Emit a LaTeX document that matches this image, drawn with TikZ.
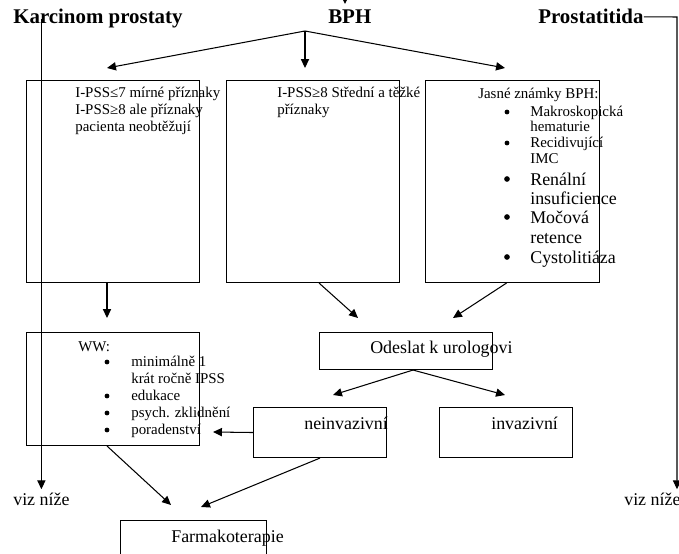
\documentclass[tikz,border=0pt]{standalone}
\usepackage{fontspec}
\setmainfont{Liberation Serif}
\usetikzlibrary{arrows.meta,calc}

\tikzset{
  box/.style 2 args={draw, line width=.7pt, anchor=north west, inner sep=0pt,
    minimum width=#1*0.67pt, minimum height=#2*0.67pt},
  txt/.style={anchor=base west, inner sep=0pt, font=\fontsize{10}{12}\selectfont},
  bigtxt/.style={anchor=base west, inner sep=0pt, font=\fontsize{12}{14}\selectfont},
  head/.style={anchor=base west, inner sep=0pt, font=\fontsize{14}{16}\selectfont\bfseries},
  dot/.style={circle, fill, inner sep=0pt, minimum size=3.2pt},
  bigdot/.style={circle, fill, inner sep=0pt, minimum size=3.8pt},
  arr/.style={line width=.7pt, -{Triangle[length=6pt,width=5.5pt]}},
}

\begin{document}
\begin{tikzpicture}[x=0.67pt, y=-0.67pt]
  \clip (0,0) rectangle (679,554);
  % headings
  \node[head] (karc) at (13,24) {Karcinom prostaty};
  \node[head] (bph) at (328,24) {BPH};
  \node[head] (prost) at (538,24) {Prostatitida};

  % boxes
  \node[box={173}{202}] (ipss) at (26,80) {};
  \node[box={173}{202}] (stredni) at (226,80) {};
  \node[box={174}{202}] (jasne) at (425,80) {};
  \node[box={173}{113}] (ww) at (26,332) {};
  \node[box={173}{37}] (urolog) at (319,332) {};
  \node[box={133}{50}] (neinv) at (253,407) {};
  \node[box={133}{50}] (inv) at (439,407) {};
  \node[box={146}{60}] (farma) at (120,520) {};

  % texts in the boxes
  \foreach \y/\t [count=\i] in {98/I-PSS≤7 mírné příznaky, 115/I-PSS≥8 ale příznaky, 132/pacienta neobtěžují}
    \node[txt] (ipss-\i) at (75,\y) {\t};
  \foreach \y/\t [count=\i] in {98/I-PSS≥8 Střední a těžké, 115/příznaky}
    \node[txt] (stredni-\i) at (277,\y) {\t};

  \node[txt] (jasne-0) at (478,99) {Jasné známky BPH:};
  \foreach \y/\t [count=\i] in {117/Makroskopická, 132/hematurie, 148/Recidivující, 164/IMC}
    \node[txt] (jasne-\i) at (530,\y) {\t};
  \foreach \y/\t [count=\i] in {186/Renální, 205/insuficience, 224/Močová, 244/retence, 264/Cystolitiáza}
    \node[bigtxt] (jasneb-\i) at (530,\y) {\t};
  \foreach \y in {112,143}
    \node[dot] (jd-\y) at (507,\y) {};
  \foreach \y in {179,217,257}
    \node[bigdot] (jd-\y) at (507,\y) {};

  \node[txt] (ww-0) at (78,351) {WW:};
  \foreach \y/\t [count=\i] in {366/minimálně 1, 383/krát ročně IPSS, 400/edukace, 417/psych. zklidnění, 434/poradenství}
    \node[txt] (ww-\i) at (131,\y) {\t};
  \foreach \y in {362,396,413,430}
    \node[dot] (wd-\y) at (107,\y) {};

  \node[bigtxt] (urolog-t) at (370,353) {Odeslat k urologovi};
  \node[bigtxt] (neinv-t) at (304,429) {neinvazivní};
  \node[bigtxt] (inv-t) at (491,429) {invazivní};
  \node[bigtxt] (farma-t) at (171,542) {Farmakoterapie};
  \node[bigtxt] (vizL) at (13,505) {viz níže};
  \node[bigtxt] (vizR) at (624,505) {viz níže};

  % arrows
  \coordinate (into) at (345,-10);
  \coordinate (intoend) at (345,4);
  \draw[arr] (into) -- (intoend);
  \coordinate (fork) at (305,31);
  \coordinate (t1) at (107,68);
  \coordinate (t2) at (305,68);
  \coordinate (t3) at (505,68);
  \foreach \t in {t1,t2,t3}
    \draw[arr] (fork) -- (\t);

  \coordinate (t4) at (107,318);
  \draw[arr] (t4 |- ipss.south) -- (t4);
  \coordinate (t5) at (358,318);
  \draw[arr] ($(stredni.south)+(6,0)$) -- (t5);
  \coordinate (t6) at (453,318);
  \draw[arr] ($(jasne.south)+(-6,0)$) -- (t6);

  \coordinate (t7) at (333,395);
  \coordinate (t8) at (505,395);
  \draw[arr] ($(urolog.south)+(7,0)$) -- (t7);
  \draw[arr] ($(urolog.south)+(7,0)$) -- (t8);

  \coordinate (t9) at (213,432);
  \draw[arr] (neinv.west) -- (t9);
  \coordinate (t10) at (171,505);
  \coordinate (t11) at (201,507);
  \draw[arr] ($(ww.south)+(-6,0)$) -- (t10);
  \draw[arr] (neinv.south) -- (t11);

  % side lines
  \draw[arr, shorten >=2pt] (vizL.north |- karc.center) -- (vizL.north);
  \coordinate (pc) at (677,17);
  \draw[arr, shorten >=2pt] (prost.east) -- (pc) -- (pc |- vizR.north);
\end{tikzpicture}
\end{document}
